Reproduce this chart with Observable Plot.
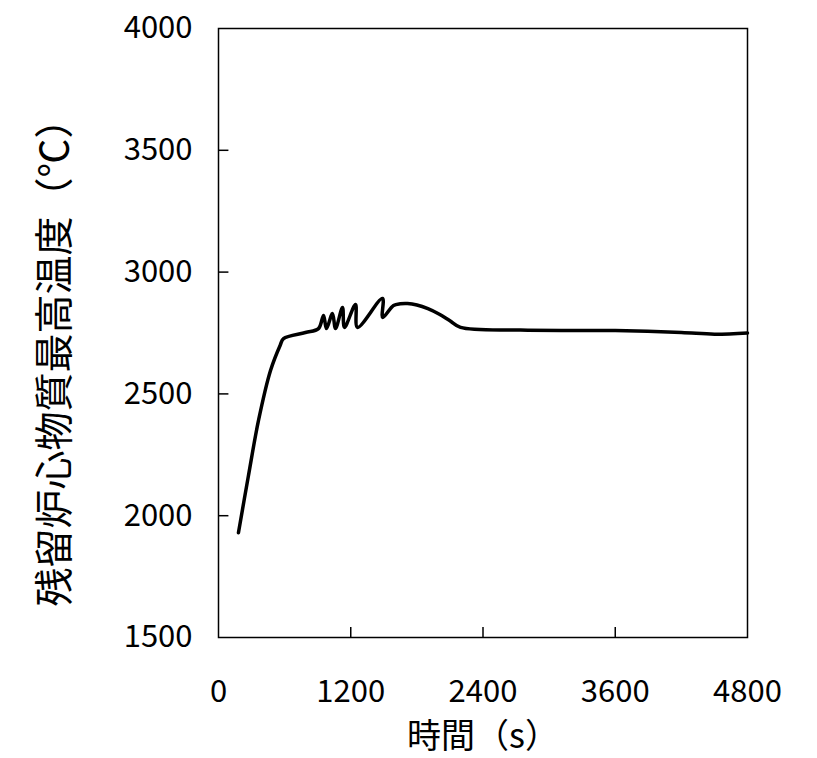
<!DOCTYPE html><html><head><meta charset="utf-8">
<script src="https://cdn.jsdelivr.net/npm/d3@7"></script>
<script src="https://cdn.jsdelivr.net/npm/@observablehq/plot@0.6"></script>
<style>body{margin:0;background:#fff}</style></head><body><div id="c"></div>
<script>
const times = [181,270,363,472,560,590,789,907,953,980,1034,1062,1125,1143,1243,1261,1488,1490,1588,1650,1715,1800,1900,2000,2100,2196,2740,3600,4200,4500,4800];
const temps = [1930,2160,2391,2596,2700,2727,2752,2768,2822,2768,2830,2768,2855,2773,2867,2773,2892,2814,2863,2870,2871,2865,2850,2828,2800,2773,2762,2760,2752,2745,2750];
const xTicks = [0,1200,2400,3600,4800];
const yTicks = [1500,2000,2500,3000,3500,4000];
const data = times.map((t,i)=>({t, v: temps[i]}));
const yInner = yTicks.slice(1,-1).map(v => ({v, a: 0, b: 90}));
const chart = Plot.plot({
  width: 817, height: 758,
  marginLeft: 218, marginRight: 70, marginTop: 28, marginBottom: 121,
  style: {fontFamily: "'Noto Sans CJK JP', sans-serif", fontSize: "31px", color: "#000", overflow: "visible"},
  x: {domain: [0,4800], ticks: xTicks, tickSize: 0, tickPadding: 42, label: null, tickFormat: d => String(d)},
  y: {domain: [1500,4000], ticks: yTicks, tickSize: 0, tickPadding: 26, label: null, tickFormat: d => String(d)},
  marks: [
    Plot.frame({stroke: "#000", strokeWidth: 1.5}),
    Plot.ruleX(xTicks.slice(1,-1), {y1: 1500, y2: 1541, stroke: "#000", strokeWidth: 1.5}),
    Plot.link(yInner, {x1: "a", x2: "b", y1: "v", y2: "v", stroke: "#000", strokeWidth: 1.5}),
    Plot.line(data, {x: "t", y: "v", stroke: "#000", strokeWidth: 3.5, curve: "catmull-rom"}),
    Plot.text(["時間（s）"], {frameAnchor: "bottom", dy: 110, fontSize: 34}),
    Plot.text(["残留炉心物質最高温度（℃）"], {frameAnchor: "left", textAnchor: "middle", dx: -163, dy: 20, rotate: -90, fontSize: 39})
  ]
});
document.getElementById("c").append(chart);
</script></body></html>
